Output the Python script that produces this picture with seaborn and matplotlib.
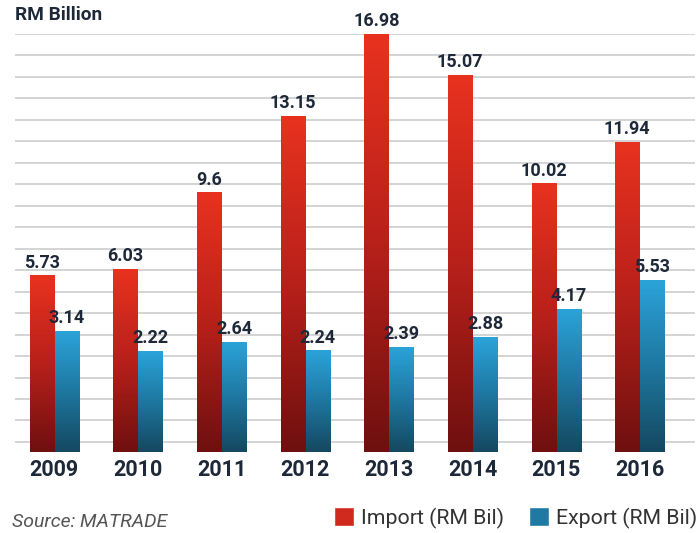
import numpy as np
import pandas as pd
import seaborn as sns
import matplotlib.pyplot as plt
from matplotlib.colors import LinearSegmentedColormap
from matplotlib.patches import Patch

years = ['2009', '2010', '2011', '2012', '2013', '2014', '2015', '2016']
imports = [5.73, 6.03, 9.6, 13.15, 16.98, 15.07, 10.02, 11.94]
exports = [3.14, 2.22, 2.64, 2.24, 2.39, 2.88, 4.17, 5.53]
import_labels = ['5.73', '6.03', '9.6', '13.15', '16.98', '15.07', '10.02', '11.94']
export_labels = ['3.14', '2.22', '2.64', '2.24', '2.39', '2.88', '4.17', '5.53']
series = ['Import (RM Bil)', 'Export (RM Bil)']

df = pd.DataFrame({
    'Year': years * 2,
    'Value': imports + exports,
    'Series': [series[0]] * len(years) + [series[1]] * len(years),
})

sns.set_style('white')
plt.rcParams['font.family'] = ['Roboto', 'DejaVu Sans']

text_col = '#1d2838'
floor = -2.47  # bars run down to the bottom of the frame

red_cmap = LinearSegmentedColormap.from_list('red', ['#6e100f', '#b8201a', '#e8321f'])
blue_cmap = LinearSegmentedColormap.from_list('blue', ['#144860', '#1e77a0', '#2ba3d9'])

fig = plt.figure(figsize=(6.99, 5.33), dpi=100)
ax = fig.add_axes([15 / 699, 81 / 533, 680 / 699, 418 / 533])

sns.barplot(data=df, x='Year', y='Value', hue='Series', ax=ax,
            palette=['#c0231b', '#1f7aa3'], width=0.6, gap=0.04,
            legend=False, zorder=3)

labels = import_labels + export_labels
cmaps = [red_cmap] * len(years) + [blue_cmap] * len(years)
grad = np.linspace(1, 0, 256).reshape(-1, 1)
for patch, lab, cm in zip(ax.patches, labels, cmaps):
    x, w = patch.get_x(), patch.get_width()
    top = patch.get_height()
    patch.set_visible(False)
    ax.imshow(grad, extent=[x, x + w, floor, top], aspect='auto',
              cmap=cm, vmin=0, vmax=1, zorder=3)
    ax.text(x + w / 2, top + 0.2, lab, ha='center', va='bottom',
            fontsize=13, fontweight='bold', color=text_col, clip_on=False)

ax.set_xlim(-0.47, 7.66)
ax.set_ylim(floor, 17)
ax.set_yticks(np.arange(-2, 18, 1))
ax.yaxis.grid(True, color='#d4d4d4', linewidth=1.4, zorder=0)
ax.set_axisbelow(True)
ax.tick_params(axis='y', length=0, labelleft=False)
ax.tick_params(axis='x', length=0, pad=5)
for t in ax.get_xticklabels():
    t.set_fontweight('bold')
    t.set_fontsize(15.5)
    t.set_color(text_col)
ax.set_xlabel('')
ax.set_ylabel('')
sns.despine(ax=ax, left=True, bottom=True)

fig.text(15 / 699, 1 - 15 / 533, 'RM Billion', fontsize=13.7, fontweight='bold',
         color=text_col, va='center', ha='left')
fig.text(12 / 699, 1 - 522 / 533, 'Source: MATRADE', fontsize=14,
         style='italic', color='#555555', va='center', ha='left')

handles = [Patch(facecolor='#cf2a1d'), Patch(facecolor='#1f7aa3')]
fig.legend(handles, series, loc='center right', bbox_to_anchor=(697 / 699, 1 - 518 / 533),
           ncol=2, frameon=False, fontsize=15.3, handlelength=0.95, handleheight=0.95,
           handletextpad=0.33, columnspacing=1.15, borderpad=0, borderaxespad=0,
           labelcolor='#333333')

fig.savefig('out.png', dpi=100)
